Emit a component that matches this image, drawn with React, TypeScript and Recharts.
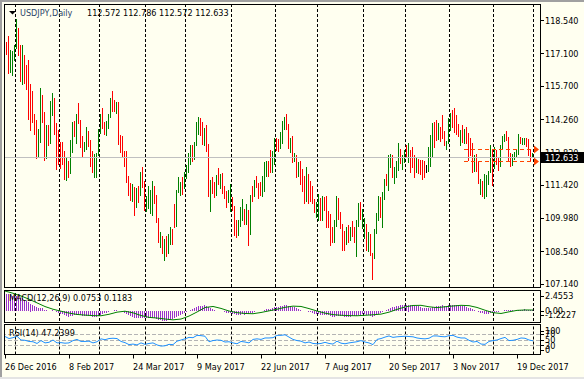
import React from 'react'
import { ComposedChart, Bar, Line, XAxis, YAxis, ReferenceLine, ReferenceDot } from 'recharts'

// USDJPY daily bars, 26 Dec 2016 .. 1 Jan 2018
const opens = [
  117.30, 117.35, 117.40, 116.35, 116.60,
  116.95, 117.40, 117.75, 117.30, 115.95, 117.00, 115.90, 115.70, 115.35, 114.45, 114.30, 114.10, 112.70, 113.40, 114.90, 114.60, 112.80, 113.75, 113.30, 114.60, 115.10, 113.80,
  113.20, 112.80, 112.90, 112.55, 112.00, 112.35, 111.95, 112.95, 113.85, 113.75, 114.30, 114.20, 113.25, 112.90, 113.10, 113.65, 113.30, 112.65, 112.10, 112.40,
  112.75, 113.70, 114.40, 114.00, 113.90, 113.95, 114.45, 115.00, 114.80, 114.75, 114.80, 113.40, 113.30, 112.70, 112.55, 111.75, 111.20, 111.00, 111.30, 110.65, 111.10, 111.05, 111.90,
  111.40, 110.40, 110.70, 110.60, 110.80, 111.10, 110.90, 109.90, 108.90, 109.10, 108.60, 108.85, 108.55, 109.20, 109.35, 110.40, 109.95, 111.05, 111.25, 111.50,
  111.35, 111.90, 112.15, 112.45, 112.95, 112.65, 113.20, 113.95, 114.20, 113.85, 113.35, 113.80, 113.10, 111.00, 111.45, 111.30, 111.15, 111.75, 111.60, 111.80, 111.30, 110.95, 110.80,
  110.80, 110.90, 110.45, 109.45, 109.25, 109.80, 110.20, 110.35, 109.90, 110.30, 109.55, 110.90, 110.90, 111.50, 111.40, 111.30, 111.20, 111.30, 111.95, 112.35, 112.65, 112.10,
  112.40, 113.30, 113.20, 113.15, 113.25, 113.90, 114.05, 113.95, 113.20, 113.25, 112.55, 112.65, 111.95, 112.00, 111.90, 111.15, 111.10, 111.80, 111.30, 111.25, 110.70,
  110.30, 110.40, 110.65, 110.05, 110.70, 110.65, 110.25, 110.05, 109.20, 109.15, 109.65, 110.65, 110.05, 109.60, 109.20, 108.95, 109.55, 109.00, 109.55, 109.35, 109.25, 109.75, 110.30,
  110.00, 109.50, 109.70, 108.75, 109.20, 108.40, 108.30, 109.40, 110.15, 110.45, 110.25, 110.85, 111.75, 111.55, 112.25, 112.55, 111.55, 112.05, 112.20, 112.75, 112.40,
  112.50, 113.00, 112.55, 112.85, 112.95, 112.60, 112.05, 112.45, 112.20, 112.30, 112.25, 112.10, 112.10, 112.90, 113.40, 114.05, 113.90, 113.70, 113.95, 114.20, 113.65, 113.10,
  113.25, 114.05, 114.25, 114.50, 113.95, 113.90, 113.30, 113.55, 113.50, 113.70, 113.55, 113.10, 112.95, 112.10, 112.60, 112.40, 111.20, 111.55, 111.05, 111.20, 111.50, 112.00,
  112.50, 112.15, 112.80, 112.55, 112.25, 113.05, 113.45, 113.55, 113.40, 112.55, 112.35, 112.60, 112.65, 112.85, 113.35, 113.25, 113.30, 113.40, 113.20, 112.85,
  112.572,
]
const highs = [
  117.42, 117.60, 117.85, 117.25, 117.20,
  117.50, 118.60, 118.20, 117.50, 117.50, 117.05, 116.60, 116.85, 115.80, 115.50, 114.50, 114.25, 113.85, 115.60, 115.30, 114.60, 114.00, 114.00, 115.05, 115.40, 115.20, 114.10,
  113.80, 113.30, 113.30, 112.90, 112.60, 112.45, 113.35, 114.15, 114.20, 114.50, 114.95, 114.25, 113.55, 113.30, 113.95, 113.75, 113.35, 112.90, 112.75, 112.80,
  113.85, 114.50, 114.75, 114.15, 114.20, 114.50, 115.20, 115.50, 115.10, 115.00, 115.00, 113.60, 113.55, 112.90, 112.90, 111.80, 111.50, 111.45, 111.35, 111.30, 111.40, 112.00, 112.20,
  111.60, 110.95, 111.40, 111.20, 111.60, 111.40, 111.00, 110.00, 109.40, 109.20, 109.10, 109.20, 109.30, 109.60, 109.50, 110.60, 111.20, 111.75, 111.55, 111.75,
  112.00, 112.30, 112.80, 113.15, 113.15, 113.30, 114.15, 114.37, 114.30, 114.15, 113.90, 114.00, 113.20, 111.65, 111.75, 111.55, 111.85, 112.15, 111.90, 111.95, 111.40, 111.15, 111.20,
  111.45, 110.90, 110.50, 109.90, 109.90, 110.45, 110.80, 110.40, 110.60, 110.35, 111.00, 111.40, 111.65, 111.80, 111.50, 111.55, 111.80, 112.40, 112.45, 112.45, 112.95, 112.90,
  113.45, 113.45, 113.40, 113.70, 114.20, 114.35, 114.49, 114.05, 113.45, 113.55, 112.80, 112.70, 112.40, 112.45, 112.10, 111.80, 112.20, 111.90, 111.60, 111.40, 110.80,
  110.70, 111.05, 110.85, 110.95, 110.90, 110.95, 110.30, 110.15, 109.60, 109.90, 110.95, 110.85, 110.25, 109.75, 109.45, 109.60, 109.70, 109.60, 109.85, 109.60, 109.90, 110.65, 110.70,
  110.40, 110.00, 109.75, 109.40, 109.30, 108.50, 109.50, 110.20, 110.95, 110.90, 111.10, 111.70, 111.90, 112.70, 112.75, 112.70, 112.20, 112.45, 113.25, 113.00, 112.70,
  112.95, 113.15, 113.25, 112.95, 113.05, 112.70, 112.60, 112.55, 112.50, 112.50, 112.45, 112.30, 113.08, 113.60, 114.10, 114.13, 114.23, 114.12, 113.95, 114.45, 113.76, 113.34,
  114.33, 114.53, 114.67, 114.74, 114.45, 114.06, 113.80, 114.00, 113.85, 113.95, 113.67, 113.45, 113.24, 112.70, 112.75, 112.45, 111.70, 111.60, 111.90, 111.85, 112.05, 113.15,
  112.95, 113.05, 112.95, 112.60, 113.15, 113.55, 113.65, 113.75, 113.50, 112.80, 112.75, 112.85, 112.95, 113.65, 113.50, 113.45, 113.45, 113.45, 113.40, 113.00,
  112.786,
]
const lows = [
  116.98, 117.05, 116.20, 116.25, 116.10,
  116.80, 117.30, 117.00, 115.90, 115.75, 115.80, 115.50, 114.25, 113.75, 114.10, 113.60, 112.55, 112.60, 113.20, 114.10, 112.50, 112.55, 113.10, 113.20, 114.40, 113.60, 112.05,
  112.30, 112.15, 112.30, 111.65, 111.60, 111.70, 111.90, 112.80, 113.50, 113.20, 114.05, 113.05, 112.60, 112.85, 112.95, 113.05, 112.20, 111.95, 111.70, 111.70,
  112.70, 113.65, 113.85, 113.60, 113.55, 113.85, 114.35, 114.60, 114.60, 114.50, 113.15, 112.80, 112.60, 112.20, 111.50, 110.95, 110.70, 110.65, 110.10, 110.45, 110.65, 110.95, 111.30,
  110.30, 110.25, 110.40, 110.15, 110.10, 110.60, 109.80, 108.90, 108.70, 108.40, 108.13, 108.30, 108.45, 108.80, 108.80, 109.55, 109.60, 111.05, 110.95, 110.95,
  111.25, 111.70, 111.95, 112.30, 112.40, 112.50, 113.10, 113.60, 113.50, 113.15, 113.10, 112.85, 110.90, 110.25, 111.00, 110.85, 110.95, 111.40, 111.25, 111.05, 110.85, 110.40, 110.65,
  110.25, 110.30, 109.20, 109.10, 109.20, 109.60, 109.85, 109.70, 109.70, 108.80, 109.25, 110.70, 110.90, 111.30, 110.80, 110.95, 110.90, 111.10, 111.75, 111.75, 111.95, 111.95,
  112.30, 112.90, 112.85, 112.95, 113.20, 113.80, 113.80, 112.95, 112.80, 112.40, 112.40, 111.70, 111.75, 111.40, 111.10, 110.60, 110.70, 110.60, 110.70, 110.60, 110.20,
  110.00, 109.90, 109.85, 109.85, 110.30, 109.55, 109.55, 108.75, 108.90, 108.90, 109.60, 109.90, 109.50, 108.60, 108.60, 108.80, 108.90, 109.00, 109.15, 108.90, 108.30, 109.60, 109.90,
  109.55, 109.10, 108.60, 108.55, 108.35, 107.32, 108.20, 109.30, 109.85, 110.00, 109.55, 110.80, 111.40, 111.15, 112.15, 111.70, 111.45, 111.70, 112.05, 112.35, 112.05,
  112.40, 112.60, 112.40, 111.95, 112.15, 111.70, 111.95, 111.90, 111.85, 111.65, 111.70, 111.95, 112.00, 112.20, 112.60, 113.00, 113.30, 113.40, 113.30, 113.40, 113.10, 112.95,
  113.20, 113.75, 113.90, 113.65, 113.60, 113.50, 113.10, 113.20, 113.20, 113.20, 112.45, 112.65, 111.95, 111.95, 111.95, 111.45, 111.00, 110.90, 110.84, 110.90, 111.45, 111.95,
  111.40, 112.10, 112.30, 112.05, 112.20, 112.95, 113.30, 113.30, 112.45, 112.20, 112.25, 112.50, 112.60, 112.75, 113.20, 113.15, 113.15, 113.05, 112.65, 112.45,
  112.572,
]
const closes = [
  117.14, 117.12, 116.40, 116.90, 116.95,
  117.40, 117.75, 117.30, 115.95, 117.00, 115.90, 115.70, 115.35, 114.45, 114.30, 114.10, 112.70, 113.40, 114.90, 114.60, 112.80, 113.75, 113.30, 114.60, 115.10, 113.80, 112.75,
  112.80, 112.60, 112.55, 112.30, 112.35, 111.95, 113.25, 113.85, 113.75, 114.30, 114.20, 113.25, 112.90, 113.10, 113.65, 113.30, 112.65, 112.10, 112.70, 112.75,
  113.70, 114.40, 114.00, 113.90, 113.95, 114.45, 115.00, 114.80, 114.75, 114.80, 113.40, 113.30, 112.70, 112.55, 111.75, 111.20, 111.00, 111.30, 110.65, 111.10, 111.05, 111.90, 111.40,
  110.40, 110.70, 110.75, 110.80, 111.10, 110.90, 109.90, 109.30, 109.10, 108.60, 108.85, 108.45, 109.20, 109.35, 109.05, 109.95, 111.05, 111.45, 111.35, 111.35,
  111.90, 112.15, 112.70, 112.95, 112.65, 113.20, 113.95, 114.20, 113.85, 113.35, 113.80, 113.10, 111.00, 111.45, 111.30, 111.15, 111.75, 111.60, 111.80, 111.30, 110.95, 110.80, 110.85,
  111.40, 110.40, 109.45, 109.25, 109.80, 110.40, 110.35, 109.90, 110.50, 109.55, 110.90, 110.85, 111.50, 111.40, 111.30, 111.20, 111.25, 111.95, 112.35, 112.25, 112.10, 112.40,
  113.30, 113.20, 113.15, 113.25, 113.90, 114.05, 113.95, 113.20, 113.25, 112.55, 112.65, 111.95, 112.00, 111.90, 111.15, 111.10, 111.80, 111.30, 111.25, 110.70, 110.30,
  110.40, 110.65, 110.05, 110.70, 110.65, 110.25, 110.05, 109.20, 109.15, 109.65, 110.65, 110.05, 109.60, 109.20, 108.95, 109.55, 109.00, 109.55, 109.35, 109.25, 109.75, 110.30, 110.00,
  110.25, 109.70, 108.75, 109.20, 108.40, 107.85, 109.40, 110.15, 110.45, 110.25, 110.85, 111.55, 111.55, 112.25, 112.55, 111.95, 112.05, 112.20, 112.75, 112.40, 112.50,
  112.75, 112.80, 112.85, 112.20, 112.60, 112.05, 112.45, 112.20, 112.00, 111.80, 111.95, 112.10, 112.90, 113.40, 113.95, 113.45, 113.70, 113.95, 113.60, 113.65, 113.20, 113.25,
  114.10, 114.25, 114.05, 113.95, 113.90, 113.85, 113.55, 113.50, 113.60, 113.40, 112.85, 112.95, 112.10, 112.60, 112.40, 111.50, 111.35, 111.15, 111.55, 111.50, 111.95, 112.50,
  112.15, 112.80, 112.55, 112.25, 113.05, 113.45, 113.55, 113.40, 112.55, 112.35, 112.60, 112.65, 112.85, 113.35, 113.30, 113.35, 113.35, 113.20, 112.85, 112.65,
  112.633,
]

// MACD(12,26,9): main line per bar (histogram), signal read every 4 bars
const macdHist = [
  2.17, 2.12, 2.06, 1.97, 1.90, 1.84, 1.86, 1.80, 1.62, 1.56, 1.40, 1.25, 1.10, 0.92, 0.78, 0.64, 0.45, 0.36, 0.38, 0.34, 0.16,
  0.10, 0.02, 0.06, 0.12, 0.02, -0.12, -0.22, -0.32, -0.42, -0.52, -0.60, -0.68, -0.66, -0.58, -0.54, -0.48, -0.44, -0.48, -0.56, -0.60, -0.58, -0.60, -0.66, -0.72, -0.74, -0.72,
  -0.62, -0.48, -0.38, -0.30, -0.24, -0.16, -0.04, 0.06, 0.12, 0.16, 0.06, -0.04, -0.14, -0.24,
  -0.38, -0.52, -0.64, -0.70, -0.82, -0.84, -0.86, -0.80, -0.80, -0.86, -0.88, -0.88, -0.88, -0.84, -0.85, -0.94, -1.06, -1.14, -1.20, -1.2227, -1.20, -1.12, -1.06, -1.02, -0.90,
  -0.72, -0.56, -0.44, -0.32, -0.20, -0.08, 0.06, 0.16, 0.24, 0.34, 0.48, 0.60, 0.66, 0.66, 0.70, 0.66,
  0.46, 0.32, 0.20, 0.09, 0.06, 0.02, 0.01, -0.05, -0.13, -0.20, -0.26,
  -0.25, -0.31, -0.40, -0.48, -0.50, -0.46, -0.42, -0.43, -0.36, -0.40, -0.28, -0.20, -0.10, -0.03, 0.01, 0.03, 0.05, 0.13, 0.22, 0.28, 0.29, 0.35,
  0.44, 0.50, 0.53, 0.56, 0.63, 0.68, 0.70, 0.66, 0.63, 0.53, 0.46, 0.34, 0.25, 0.16, 0.03, -0.06, -0.06, -0.12, -0.17, -0.25, -0.34,
  -0.38, -0.40, -0.46, -0.44, -0.44, -0.48, -0.52, -0.62, -0.68, -0.68, -0.60, -0.58, -0.60, -0.66, -0.72, -0.70, -0.72, -0.68, -0.66, -0.64, -0.60, -0.52, -0.48,
  -0.42, -0.42, -0.50, -0.51, -0.60, -0.74, -0.66, -0.54, -0.40, -0.30, -0.16, 0.00, 0.12, 0.28, 0.42, 0.46, 0.50, 0.56, 0.66, 0.68, 0.71,
  0.75, 0.76, 0.80, 0.76, 0.74, 0.66, 0.62, 0.56, 0.50, 0.42, 0.36, 0.34, 0.32, 0.36, 0.44, 0.50, 0.56, 0.62, 0.64, 0.68, 0.64, 0.62,
  0.68, 0.74, 0.76, 0.77, 0.74, 0.70, 0.64, 0.61, 0.56, 0.52, 0.42, 0.33, 0.20, 0.13, 0.06, -0.08, -0.20, -0.29, -0.36, -0.38, -0.37, -0.30,
  -0.27, -0.20, -0.15, -0.12, -0.05, 0.05, 0.13, 0.17, 0.14, 0.09, 0.07, 0.06, 0.07, 0.13, 0.16, 0.18, 0.19, 0.18, 0.14, 0.09, 0.0753,
]
const SIGNAL_STEP = 4
const macdSignal = [
  2.4553, 2.18, 1.85, 1.45, 1.00, 0.55, 0.22, -0.02, -0.25, -0.42, -0.50, -0.56, -0.58, -0.40, -0.14, -0.02, -0.22,
  -0.55, -0.78, -0.86, -0.98, -1.08, -0.98, -0.62, -0.12, 0.43, 0.56, 0.32, 0.00, -0.20, -0.30, -0.33, -0.18,
  0.02, 0.22, 0.45, 0.60, 0.56, 0.30, 0.00, -0.26, -0.44, -0.52, -0.56, -0.58, -0.52, -0.46, -0.38, -0.14,
  0.20, 0.50, 0.68, 0.70, 0.52, 0.42, 0.52, 0.62, 0.70, 0.66, 0.44, 0.10, -0.20, -0.30, -0.10, 0.08, 0.13, 0.1183,
]

// RSI(14), read every 2 bars
const RSI_STEP = 2
const rsiValues = [
  62, 55, 58, 63, 50, 49, 45, 44, 38, 48, 40, 42, 50, 40, 41, 39, 40, 48, 52, 45,
  45, 46, 40, 44, 54, 51, 55, 56, 55, 45, 41, 34, 36, 33, 40, 35, 38, 40, 33, 29,
  30, 35, 34, 46, 50, 54, 59, 58, 66, 65, 63, 44, 48, 50, 49, 43, 44, 40, 37, 45,
  43, 40, 52, 54, 52, 57, 57, 58, 66, 66, 68, 60, 52, 48, 46, 40, 43, 38, 37, 38,
  42, 38, 36, 46, 39, 37, 40, 42, 44, 48, 43, 40, 34, 52, 55, 60, 64, 59, 61, 62,
  63, 62, 61, 57, 55, 54, 56, 64, 64, 62, 61, 65, 66, 60, 57, 57, 49, 43, 45, 36,
  35, 45, 48, 50, 55, 59, 48, 49, 52, 57, 56, 50, 47.2399,
]

const priceTicks = [118.54, 117.1, 115.7, 114.26, 112.82, 111.42, 109.98, 108.54, 107.14]
const macdTicks = [2.4553, 0, -1.2227]
const rsiTicks = [100, 70, 50, 30, 0]
const rsiLevels = [70, 50, 30]
const monthStarts = [5, 27, 47, 70, 90, 113, 135, 156, 179, 200, 222, 244, 264]
const dateTickBars = [0, 32, 64, 96, 128, 160, 192, 224, 256]
const dateLabels = ['26 Dec 2016', '8 Feb 2017', '24 Mar 2017', '9 May 2017', '22 Jun 2017', '7 Aug 2017', '20 Sep 2017', '3 Nov 2017', '19 Dec 2017']
const levelLines = [112.97, 112.45]
const levelFromBar = 229.5
const levelToBar = 265
const levelArrowBar = 265.5

const lastIdx = closes.length - 1
const lastClose = closes[lastIdx]

const priceData = opens.map((o, i) => ({ i, open: o, close: closes[i], range: [lows[i], highs[i]] }))
const histData = macdHist.map((v, i) => ({ i, hist: v }))
const signalData = macdSignal.map((v, k) => ({ i: k * SIGNAL_STEP, signal: v }))
const rsiData = rsiValues.map((v, k) => ({ i: k * RSI_STEP, rsi: v }))

const W = 584
const H = 379
const AXIS_W = 44
const X_DOMAIN: [number, number] = [-0.5, 267.5]
const BG = '#fffff0'
const UP = '#008000'
const DOWN = '#ff0000'
const DOJI = '#000000'
const HIST = '#9932cc'
const SIGNAL = '#008000'
const RSI_COLOR = '#1e90ff'
const LEVEL = '#ff4500'
const FONT = '"DejaVu Sans Condensed", "Liberation Sans", Arial, sans-serif'
const txt = { fontFamily: FONT, fontSize: 9 }

const crisp = (v: number) => Math.floor(v + 0.01) + 0.5

const PriceStick = (props: any) => {
  const { x, y, width, height, payload } = props
  if (x == null || y == null) return null
  const px = Math.floor(x + width / 2 + 0.01)
  const top = Math.round(Math.min(y, y + height))
  const h = Math.max(1, Math.round(Math.abs(height)))
  const c = payload.close > payload.open ? UP : payload.close < payload.open ? DOWN : DOJI
  return <rect x={px} y={top} width={1} height={h} fill={c} />
}

const HistStick = (props: any) => {
  const { x, y, width, height } = props
  if (x == null || y == null || Math.abs(height) < 0.5) return null
  const px = Math.floor(x + width / 2 + 0.01)
  const top = Math.round(Math.min(y, y + height))
  const h = Math.max(1, Math.round(Math.abs(height)))
  return <rect x={px} y={top} width={1} height={h} fill={HIST} />
}

const VLine = (p: any) => (
  <line x1={crisp(p.x1)} x2={crisp(p.x1)} y1={p.y1} y2={p.y2} stroke={p.stroke} strokeWidth={1} strokeDasharray={p.strokeDasharray} />
)
const HLine = (p: any) => (
  <line x1={p.x1} x2={p.x2} y1={crisp(p.y1)} y2={crisp(p.y1)} stroke={p.stroke} strokeWidth={1} strokeDasharray={p.strokeDasharray} />
)
const Arrow = (p: any) => {
  const cx = Math.round(p.cx)
  const cy = Math.round(p.cy) + 0.5
  return <path d={`M${cx - 2},${cy - 4} L${cx + 3},${cy} L${cx - 2},${cy + 4} Z`} fill={LEVEL} />
}

const PriceTick = (props: any) => {
  const { x, y, payload } = props
  const v = payload.value
  if (v === lastClose) {
    const top = Math.round(y) - 5
    return (
      <g>
        <rect x={x + 1} y={top} width={W - x - 1} height={11} fill="#000" />
        <text x={x + 5} y={top + 5.5} dy="0.35em" fill="#fff" style={txt}>{v.toFixed(3)}</text>
      </g>
    )
  }
  const ly = crisp(y)
  return (
    <g>
      <line x1={x} x2={x + 4} y1={ly} y2={ly} stroke="#000" />
      <text x={x + 5} y={y} dy="0.35em" fill="#000" style={txt}>{v.toFixed(3)}</text>
    </g>
  )
}

const subTick = (fmt: (v: number) => string, minY: number, maxY: number) => (props: any) => {
  const { x, y, payload } = props
  const cy = Math.min(maxY, Math.max(minY, y))
  const ly = crisp(cy)
  return (
    <g>
      <line x1={x} x2={x + 4} y1={ly} y2={ly} stroke="#000" />
      <text x={x + 5} y={cy} dy="0.35em" fill="#000" style={txt}>{fmt(payload.value)}</text>
    </g>
  )
}
const MacdTick = subTick((v) => (v === 0 ? '0.00' : v.toFixed(4)), 6, 25)
const RsiTick = subTick((v) => String(v), 7, 26)

const DateTick = (props: any) => {
  const { x, y, payload } = props
  const px = Math.floor(x + 0.01)
  const label = dateLabels[dateTickBars.indexOf(payload.value)]
  return (
    <g>
      <line x1={px + 0.5} x2={px + 0.5} y1={y} y2={y + 4} stroke="#000" />
      <text x={px} y={y + 12} dy="0.35em" fill="#000" style={txt}>{label}</text>
    </g>
  )
}

const separators = (prefix: string) =>
  monthStarts.map((m) => (
    <ReferenceLine key={prefix + m} x={m} stroke="#000" strokeDasharray="3 2" shape={VLine} />
  ))

const frame = (top: number, height: number) => (
  <div style={{ position: 'absolute', left: 4, top, width: 537, height, border: '1px solid #000', boxSizing: 'border-box', pointerEvents: 'none' }} />
)

const label = (left: number, cy: number, text: string, color = '#000') => (
  <div style={{ position: 'absolute', left, top: cy - 5, height: 10, lineHeight: '10px', fontFamily: FONT, fontSize: 9, color, whiteSpace: 'nowrap' }}>{text}</div>
)

export default function App() {
  return (
    <div style={{ position: 'absolute', left: 0, top: 0, width: W, height: H, background: BG, overflow: 'hidden' }}>
      <div style={{ position: 'absolute', left: 0, top: 0, width: W, height: 2, background: '#a0a0a0' }} />
      <div style={{ position: 'absolute', left: 0, top: 0, width: 2, height: H, background: '#a0a0a0' }} />
      <div style={{ position: 'absolute', left: 0, top: H - 2, width: W, height: 2, background: '#e4e4e4' }} />

      <div style={{ position: 'absolute', left: 0, top: 0 }}>
        <ComposedChart width={W} height={288} data={priceData} margin={{ top: 5, right: 0, bottom: 1, left: 4 }}>
          <XAxis type="number" dataKey="i" domain={X_DOMAIN} allowDataOverflow hide />
          <YAxis
            orientation="right"
            width={AXIS_W}
            domain={[107.01, 119.21]}
            allowDataOverflow
            ticks={[...priceTicks, lastClose]}
            interval={0}
            tickSize={0}
            tickMargin={0}
            tickLine={false}
            axisLine={false}
            tick={PriceTick}
          />
          {separators('p')}
          <ReferenceLine y={lastClose} stroke="#c0c0c0" shape={HLine} />
          {levelLines.map((lv) => (
            <ReferenceLine
              key={'l' + lv}
              segment={[{ x: levelFromBar, y: lv }, { x: levelToBar, y: lv }]}
              stroke={LEVEL}
              strokeDasharray="4 3"
              shape={HLine}
            />
          ))}
          <Bar dataKey="range" barSize={1} isAnimationActive={false} shape={PriceStick} />
          {levelLines.map((lv) => (
            <ReferenceDot key={'a' + lv} x={levelArrowBar} y={lv} shape={Arrow} />
          ))}
        </ComposedChart>
      </div>

      <div style={{ position: 'absolute', left: 0, top: 290 }}>
        <ComposedChart width={W} height={32} data={histData} margin={{ top: 1, right: 0, bottom: 1, left: 4 }}>
          <XAxis type="number" dataKey="i" domain={X_DOMAIN} allowDataOverflow hide />
          <YAxis
            orientation="right"
            width={AXIS_W}
            domain={[-1.2227, 2.4553]}
            allowDataOverflow
            ticks={macdTicks}
            interval={0}
            tickSize={0}
            tickMargin={0}
            tickLine={false}
            axisLine={false}
            tick={MacdTick}
          />
          {separators('m')}
          <Bar dataKey="hist" barSize={1} isAnimationActive={false} shape={HistStick} />
          <Line data={signalData} dataKey="signal" type="linear" stroke={SIGNAL} strokeWidth={1} dot={false} isAnimationActive={false} />
        </ComposedChart>
      </div>

      <div style={{ position: 'absolute', left: 0, top: 324 }}>
        <ComposedChart width={W} height={55} data={rsiData} margin={{ top: 1.5, right: 0, bottom: 0, left: 4 }}>
          <XAxis
            type="number"
            dataKey="i"
            domain={X_DOMAIN}
            allowDataOverflow
            height={24.5}
            ticks={dateTickBars}
            interval={0}
            tickSize={0}
            tickMargin={0}
            tickLine={false}
            axisLine={false}
            tick={DateTick}
          />
          <YAxis
            orientation="right"
            width={AXIS_W}
            domain={[0, 100]}
            allowDataOverflow
            ticks={rsiTicks}
            interval={0}
            tickSize={0}
            tickMargin={0}
            tickLine={false}
            axisLine={false}
            tick={RsiTick}
          />
          {separators('r')}
          {rsiLevels.map((lv) => (
            <ReferenceLine key={'rl' + lv} y={lv} stroke="#b4b4b4" strokeDasharray="4 2" shape={HLine} />
          ))}
          <Line dataKey="rsi" type="linear" stroke={RSI_COLOR} strokeWidth={1} dot={false} isAnimationActive={false} />
        </ComposedChart>
      </div>

      {frame(4, 284)}
      {frame(290, 33)}
      {frame(324, 31)}

      <svg width={W} height={H} style={{ position: 'absolute', left: 0, top: 0, pointerEvents: 'none' }}>
        <path d="M9,11 L16,11 L12.5,14.5 Z" fill="#000" />
      </svg>
      {label(20, 13, 'USDJPY,Daily', '#2a4468')}
      {label(87, 13, `${opens[lastIdx].toFixed(3)} ${highs[lastIdx].toFixed(3)} ${lows[lastIdx].toFixed(3)} ${closes[lastIdx].toFixed(3)}`)}
      {label(9, 298, `MACD(12,26,9) ${macdHist[lastIdx].toFixed(4)} ${macdSignal[macdSignal.length - 1].toFixed(4)}`)}
      {label(9, 333, `RSI(14) ${rsiValues[rsiValues.length - 1].toFixed(4)}`)}
    </div>
  )
}
